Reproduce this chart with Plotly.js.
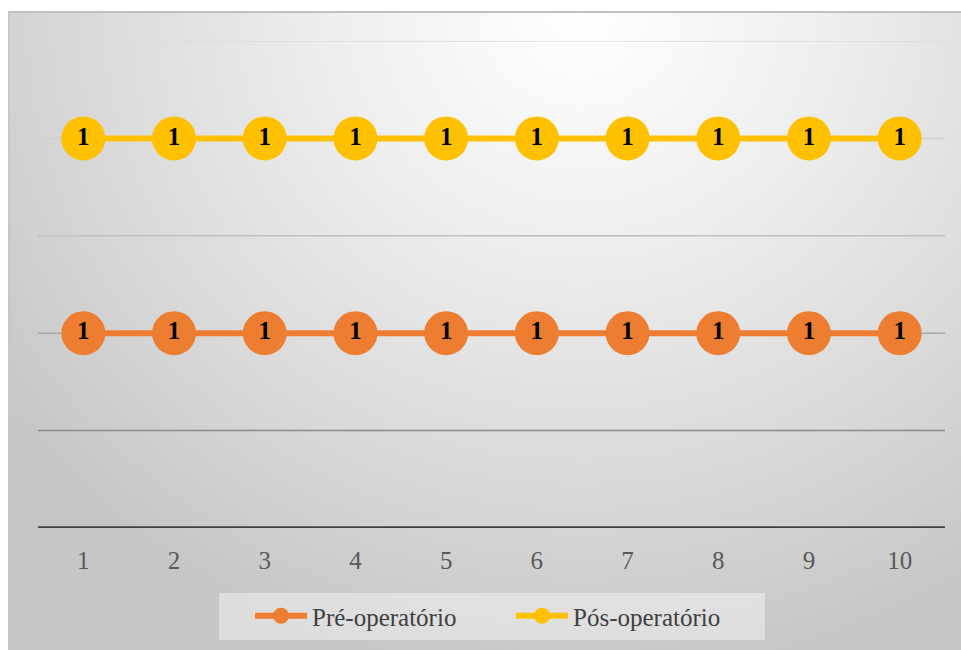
<!DOCTYPE html>
<html>
<head>
<meta charset="utf-8">
<script src="https://cdn.plot.ly/plotly-3.0.1.min.js"></script>
<style>
  html, body { margin: 0; padding: 0; background: #ffffff; }
  #wrap { position: relative; width: 961px; height: 650px; overflow: hidden; }
  #panel {
    position: absolute; left: 8px; top: 11px; width: 953px; height: 639px;
    border-top: 2px solid #c0c0c0; border-left: 2px solid #c8c8c8;
    box-sizing: border-box;
    background: radial-gradient(ellipse 75% 105% at 60% 0%, #ffffff 0%, #eeeeee 35%, #d6d6d6 75%, #c6c6c6 100%);
  }
  #chart { position: absolute; left: 0; top: 0; width: 961px; height: 650px; }
</style>
</head>
<body>
<div id="wrap">
  <div id="panel"></div>
  <div id="chart"></div>
</div>
<script>
// Sessions 1..10 and the values recorded before and after surgery
const categories = [1, 2, 3, 4, 5, 6, 7, 8, 9, 10];
const preOperatorio = [1, 1, 1, 1, 1, 1, 1, 1, 1, 1];
const posOperatorio = [1, 1, 1, 1, 1, 1, 1, 1, 1, 1];
const seriesNames = ['Pré-operatório', 'Pós-operatório'];
const seriesColors = ['#ED7D31', '#FFC000'];

// Horizontal gridlines, darker towards the base
const gridValues = [0.5, 1, 1.5, 2, 2.5];
const gridColors = ['#8a8a8a', '#a8a8a8', '#c0c0c0', '#d0d0d0', '#dadada'];

const serif = '"Liberation Serif", "Times New Roman", serif';

function series(values, name, color) {
  return {
    type: 'scatter',
    x: categories,
    y: values,
    name: name,
    stackgroup: 'one',
    fill: 'none',
    mode: 'lines+markers+text',
    text: values.map(String),
    textposition: 'middle center',
    textfont: { family: serif, size: 25, color: '#000000', weight: 'bold' },
    line: { color: color, width: 6 },
    marker: { color: color, size: 44 },
    hoverinfo: 'x+text+name'
  };
}

const data = [
  series(preOperatorio, seriesNames[0], seriesColors[0]),
  series(posOperatorio, seriesNames[1], seriesColors[1])
];

const shapes = gridValues.map((v, i) => ({
  type: 'line', xref: 'paper', yref: 'y', layer: 'below',
  x0: 0, x1: 1, y0: v, y1: v,
  line: { color: gridColors[i], width: 1.5 }
}));
shapes.push({
  type: 'line', xref: 'paper', yref: 'y', layer: 'below',
  x0: 0, x1: 1, y0: 0, y1: 0,
  line: { color: '#404040', width: 3.5 }
});

// Plot area spans x 38..945 and y 41..528 in page pixels
const plotL = 38, plotW = 907, pageH = 650;
const px = v => (v - plotL) / plotW;

// Legend backing panel
shapes.push({
  type: 'rect', xref: 'paper', yref: 'paper', layer: 'below',
  x0: px(219), x1: px(765),
  y0: -(640 - 528) / 487, y1: -(593 - 528) / 487,
  fillcolor: 'rgba(236,236,236,0.6)',
  line: { width: 0 }
});

const layout = {
  width: 961,
  height: 650,
  paper_bgcolor: 'rgba(0,0,0,0)',
  plot_bgcolor: 'rgba(0,0,0,0)',
  margin: { l: 38, r: 16, t: 41, b: 122, autoexpand: false },
  showlegend: true,
  xaxis: {
    range: [0.5, 10.5],
    tickvals: categories,
    ticktext: categories.map(String),
    showgrid: false,
    zeroline: false,
    showline: false,
    ticks: 'outside',
    ticklen: 0,
    ticklabelstandoff: 10,
    tickfont: { family: serif, size: 25, color: '#595959' },
    fixedrange: true
  },
  yaxis: {
    range: [0, 2.5],
    showgrid: false,
    zeroline: false,
    showline: false,
    showticklabels: false,
    fixedrange: true
  },
  shapes: shapes,
  legend: {
    orientation: 'h',
    x: px(250), xanchor: 'left',
    yref: 'container',
    y: (pageH - 593) / pageH, yanchor: 'top',
    bgcolor: 'rgba(0,0,0,0)',
    borderwidth: 0,
    font: { family: serif, size: 25, color: '#404040' },
    traceorder: 'normal',
    itemwidth: 52,
    entrywidth: 194,
    tracegroupgap: 0
  }
};

Plotly.newPlot('chart', data, layout, { staticPlot: true, displayModeBar: false });
</script>
</body>
</html>
